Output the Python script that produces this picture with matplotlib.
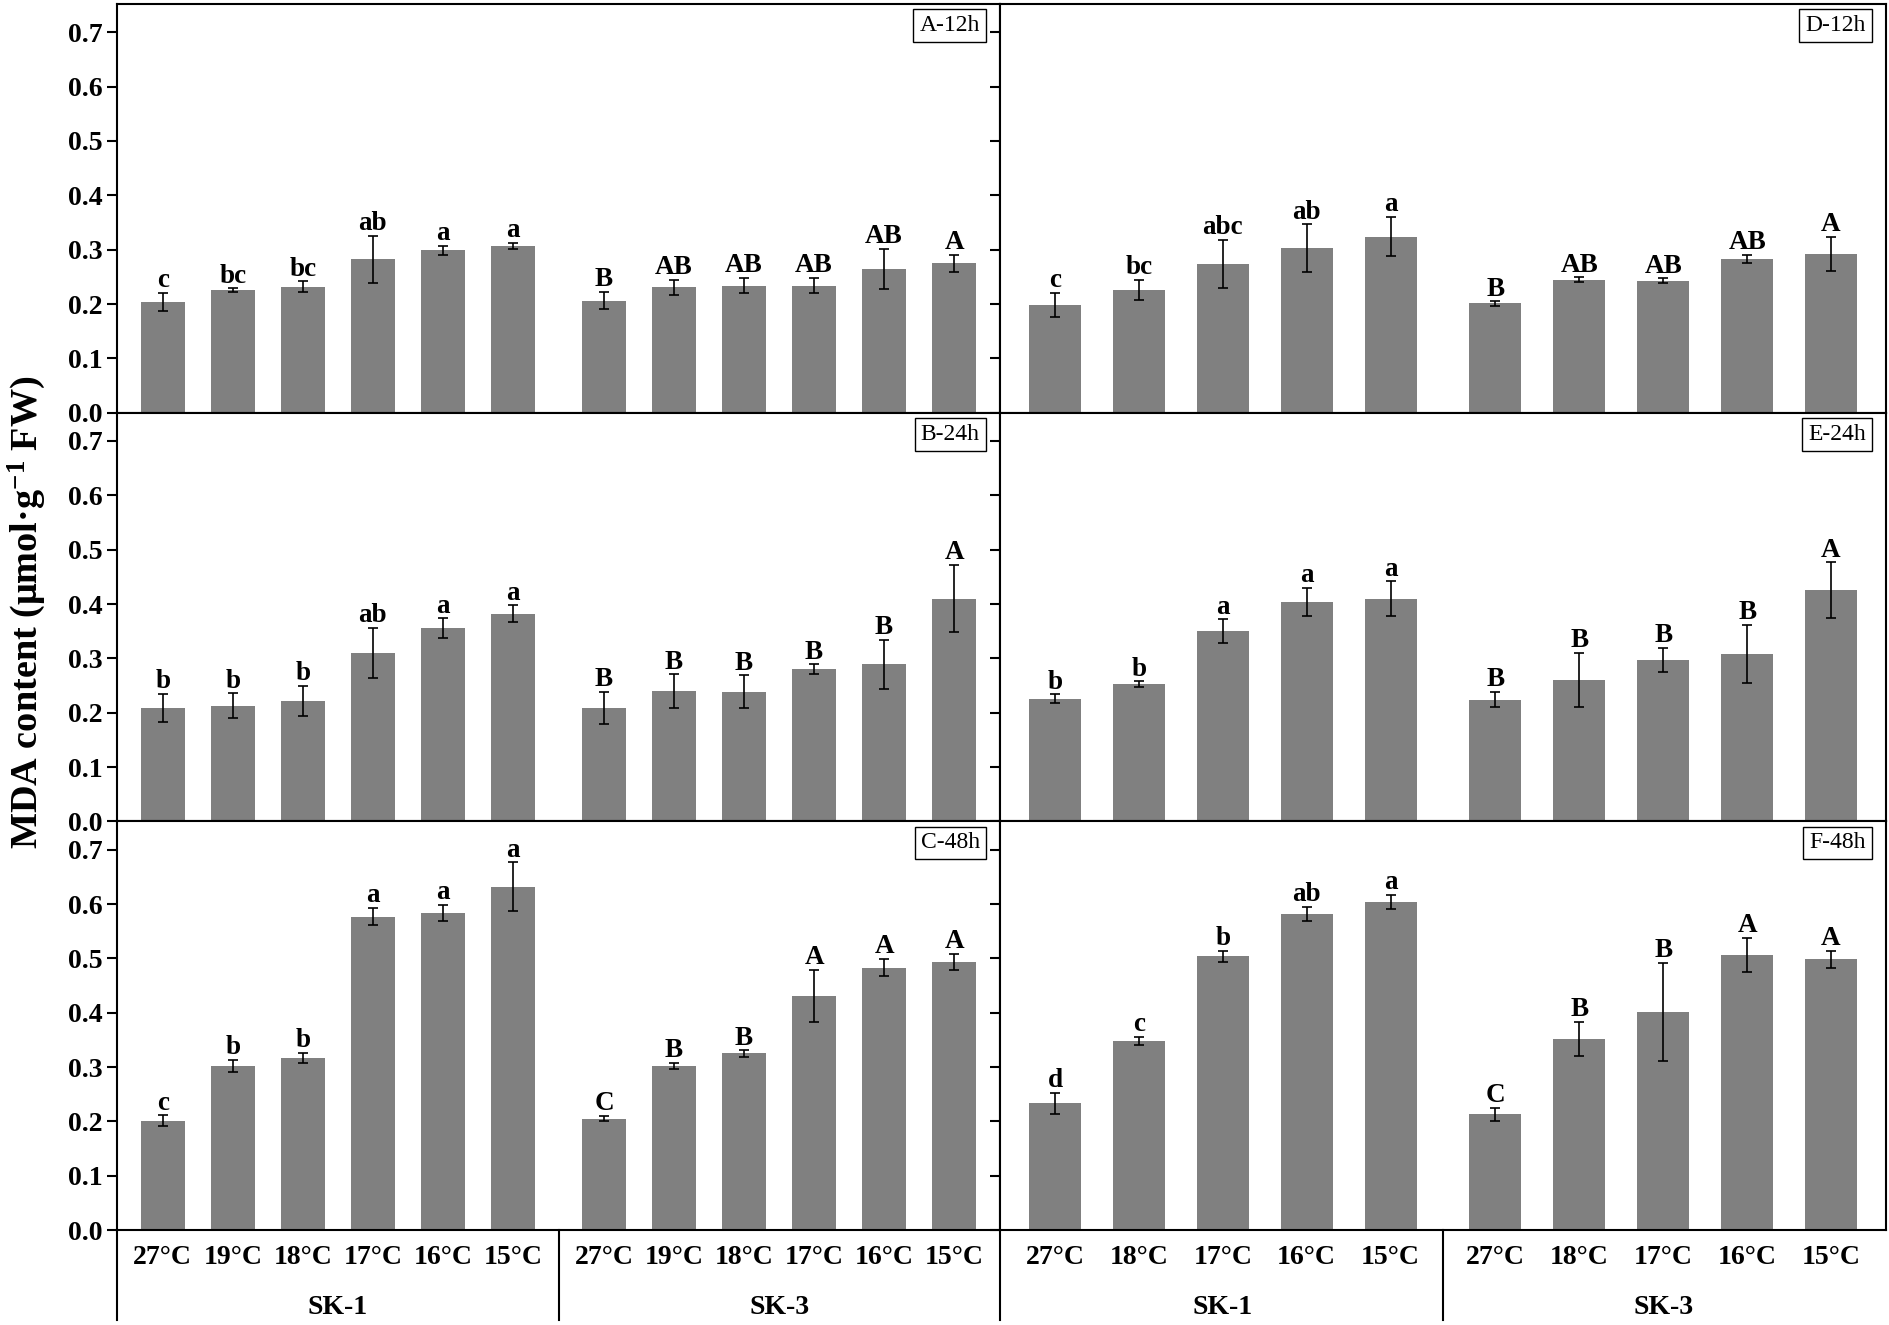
import numpy as np
import matplotlib
matplotlib.use("Agg")
import matplotlib.pyplot as plt
import matplotlib.transforms as mtransforms

plt.rcParams['font.family'] = ['Liberation Serif', 'DejaVu Serif']
plt.rcParams['mathtext.fontset'] = 'custom'
plt.rcParams['mathtext.rm'] = 'Liberation Serif:bold'

# ---- data ----
temps_left = ['27°C', '19°C', '18°C', '17°C', '16°C', '15°C']
temps_right = ['27°C', '18°C', '17°C', '16°C', '15°C']
groups = ['SK-1', 'SK-3']

a_mean = [0.204, 0.226, 0.232, 0.282, 0.299, 0.307, 0.206, 0.231, 0.234, 0.234, 0.265, 0.275]
a_err = [0.017, 0.003, 0.010, 0.044, 0.008, 0.006, 0.016, 0.014, 0.014, 0.014, 0.037, 0.016]
a_let = ['c', 'bc', 'bc', 'ab', 'a', 'a', 'B', 'AB', 'AB', 'AB', 'AB', 'A']

b_mean = [0.209, 0.213, 0.222, 0.310, 0.356, 0.382, 0.209, 0.240, 0.239, 0.280, 0.289, 0.410]
b_err = [0.026, 0.023, 0.028, 0.046, 0.018, 0.016, 0.030, 0.031, 0.030, 0.009, 0.045, 0.062]
b_let = ['b', 'b', 'b', 'ab', 'a', 'a', 'B', 'B', 'B', 'B', 'B', 'A']

c_mean = [0.201, 0.302, 0.317, 0.577, 0.584, 0.632, 0.205, 0.302, 0.325, 0.431, 0.483, 0.493]
c_err = [0.010, 0.011, 0.009, 0.016, 0.015, 0.045, 0.005, 0.006, 0.006, 0.048, 0.016, 0.015]
c_let = ['c', 'b', 'b', 'a', 'a', 'a', 'C', 'B', 'B', 'A', 'A', 'A']

d_mean = [0.199, 0.226, 0.274, 0.303, 0.324, 0.201, 0.245, 0.243, 0.283, 0.292]
d_err = [0.022, 0.019, 0.044, 0.044, 0.036, 0.004, 0.004, 0.004, 0.008, 0.032]
d_let = ['c', 'bc', 'abc', 'ab', 'a', 'B', 'AB', 'AB', 'AB', 'A']

e_mean = [0.226, 0.253, 0.350, 0.404, 0.410, 0.224, 0.260, 0.297, 0.308, 0.426]
e_err = [0.008, 0.005, 0.022, 0.026, 0.032, 0.014, 0.050, 0.022, 0.054, 0.051]
e_let = ['b', 'b', 'a', 'a', 'a', 'B', 'B', 'B', 'B', 'A']

f_mean = [0.233, 0.348, 0.504, 0.582, 0.604, 0.213, 0.352, 0.402, 0.506, 0.498]
f_err = [0.020, 0.008, 0.010, 0.013, 0.013, 0.012, 0.031, 0.090, 0.032, 0.016]
f_let = ['d', 'c', 'b', 'ab', 'a', 'C', 'B', 'B', 'A', 'A']

# ---- layout ----
W, H = 1890, 1325
fig = plt.figure(figsize=(W / 100, H / 100), dpi=100)

top_px, row_h = 4, 408.7
col_x = [(117, 1000), (1000, 1886)]


def make_ax(row, col):
    x0, x1 = col_x[col]
    y_bot = top_px + (row + 1) * row_h
    return fig.add_axes([x0 / W, 1 - y_bot / H, (x1 - x0) / W, row_h / H])


def positions(n, gap):
    return np.r_[np.arange(n) + 1.0, np.arange(n) + n + gap]


def panel(ax, n, gap, mean, err, lets, name, temps, show_ylab, bottom):
    pos = positions(n, gap)
    ax.bar(pos, mean, width=0.62, color='#808080', zorder=2)
    ax.errorbar(pos, mean, yerr=err, fmt='none', ecolor='black',
                elinewidth=1.2, capsize=3.5, capthick=1.2, zorder=3)
    for x, m, e, t in zip(pos, mean, err, lets):
        ax.annotate(t, (x, m + e), xytext=(0, 4), textcoords='offset points',
                    ha='center', va='baseline', fontsize=19.5, fontweight='bold')
    ax.set_ylim(0, 0.752)
    ax.set_xlim(pos[0] - 0.655, pos[-1] + 0.655)
    ax.set_yticks(np.arange(0, 0.71, 0.1))
    ax.tick_params(axis='y', direction='out', length=7, width=1.5, right=False)
    if show_ylab:
        ax.set_yticklabels(['%.1f' % v for v in np.arange(0, 0.71, 0.1)],
                           fontsize=20, fontweight='bold')
    else:
        ax.set_yticklabels([])
    for s in ax.spines.values():
        s.set_linewidth(1.5)
    ax.text(0.977, 0.973, name, transform=ax.transAxes, ha='right', va='top',
            fontsize=17, bbox=dict(boxstyle='square,pad=0.25', fc='white',
                                   ec='black', lw=1.0))
    if bottom:
        ax.set_xticks(pos)
        ax.set_xticklabels(temps + temps, fontsize=20, fontweight='bold')
        ax.tick_params(axis='x', length=0, pad=11)
        trans = mtransforms.blended_transform_factory(ax.transData, ax.transAxes)
        sep = (pos[n - 1] + pos[n]) / 2
        for xl in [ax.get_xlim()[0], sep]:
            ax.plot([xl, xl], [0, -0.22], transform=trans, color='black',
                    lw=1.5, clip_on=False)
        ax.text(pos[:n].mean(), -0.19, groups[0], transform=trans, ha='center',
                va='center', fontsize=20, fontweight='bold')
        ax.text(pos[n:].mean(), -0.19, groups[1], transform=trans, ha='center',
                va='center', fontsize=20, fontweight='bold')
    else:
        ax.set_xticks([])


left = [(a_mean, a_err, a_let, 'A-12h'), (b_mean, b_err, b_let, 'B-24h'),
        (c_mean, c_err, c_let, 'C-48h')]
right = [(d_mean, d_err, d_let, 'D-12h'), (e_mean, e_err, e_let, 'E-24h'),
         (f_mean, f_err, f_let, 'F-48h')]

for r in range(3):
    m, e, l, nm = left[r]
    panel(make_ax(r, 0), 6, 1.3, m, e, l, nm, temps_left, True, r == 2)
    m, e, l, nm = right[r]
    panel(make_ax(r, 1), 5, 1.25, m, e, l, nm, temps_right, False, r == 2)

fig.text(0.014, 1 - 612 / H, r'MDA content (μmol·g$\mathregular{^{-1}}$ FW)',
         rotation=90, ha='center', va='center', fontsize=27.5, fontweight='bold')

fig.savefig('out.png', dpi=100)
